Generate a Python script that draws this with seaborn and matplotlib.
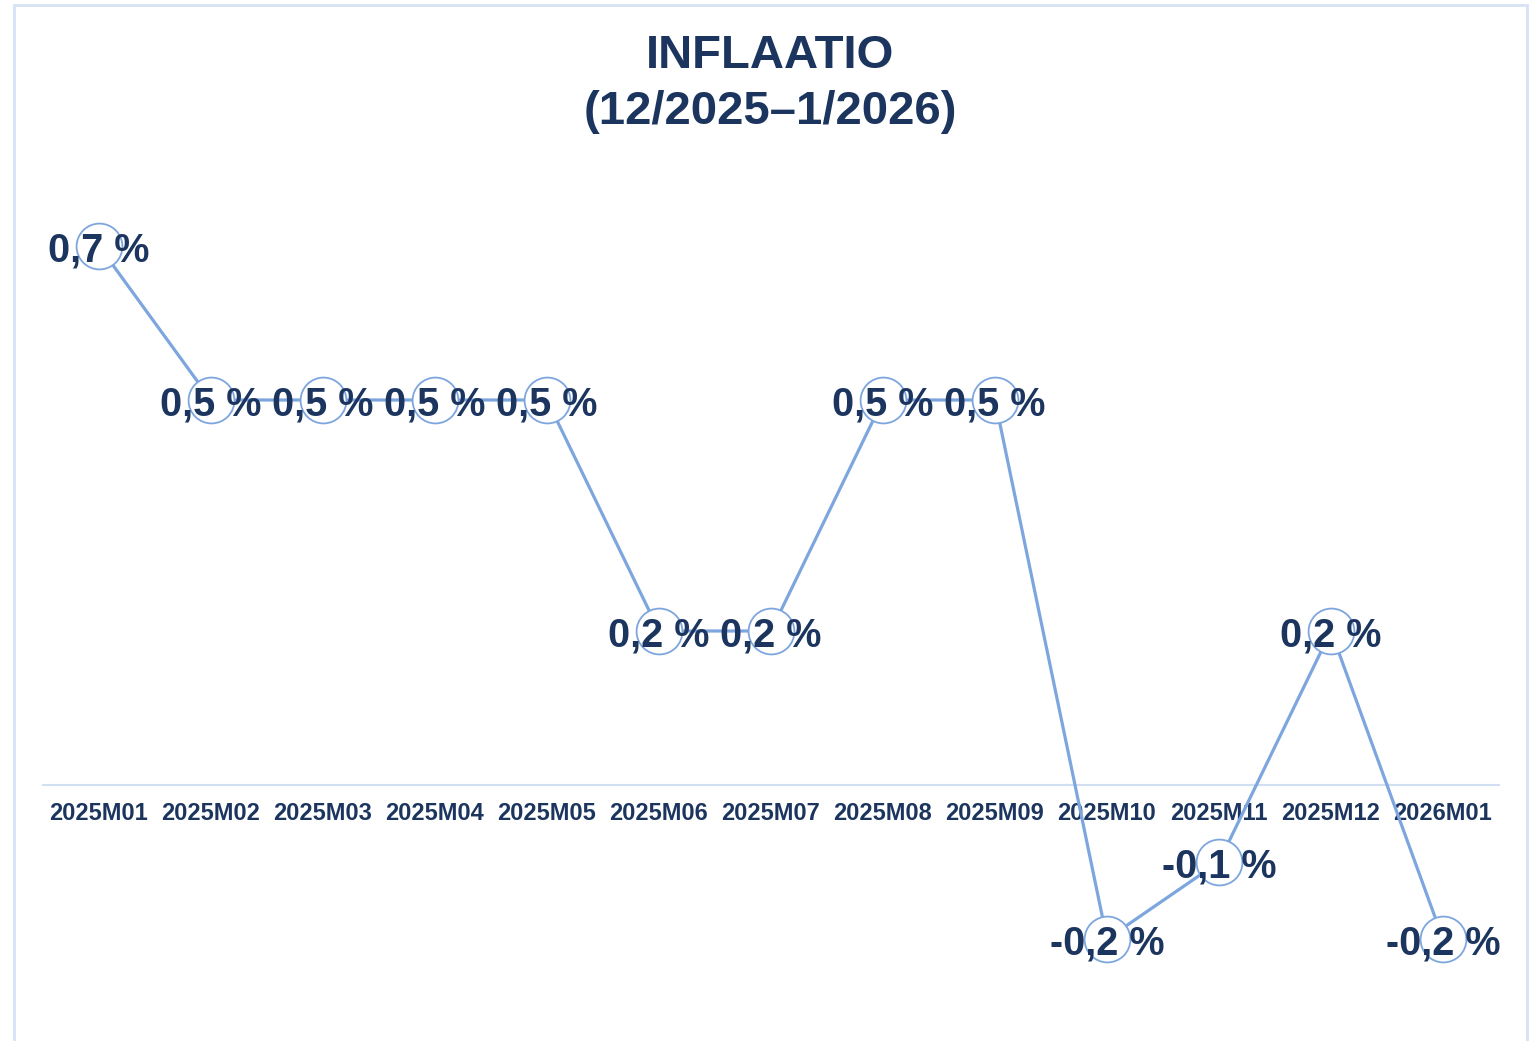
import matplotlib
matplotlib.use("Agg")
import matplotlib.pyplot as plt
import matplotlib.patches as patches
import pandas as pd
import seaborn as sns

# data
months = ['2025M01', '2025M02', '2025M03', '2025M04', '2025M05', '2025M06', '2025M07',
          '2025M08', '2025M09', '2025M10', '2025M11', '2025M12', '2026M01']
inflation = [0.7, 0.5, 0.5, 0.5, 0.5, 0.2, 0.2, 0.5, 0.5, -0.2, -0.1, 0.2, -0.2]
title = "INFLAATIO\n(12/2025–1/2026)"

navy = '#1c355e'
line_col = '#7da6de'
grid_col = '#d0dff2'

sns.set_style("white")
plt.rcParams['font.family'] = ['Liberation Sans', 'DejaVu Sans']

df = pd.DataFrame({'kk': months, 'inflaatio': inflation})

fig = plt.figure(figsize=(15.39, 10.41), dpi=100)
W, H = 1539, 1041
ax = fig.add_axes([43 / W, (H - 1000) / H, 1456 / W, 840 / H])

sns.lineplot(data=df, x='kk', y='inflaatio', ax=ax, sort=False, color=line_col,
             linewidth=2.3, marker='o', markersize=33, markerfacecolor='white',
             markeredgecolor=line_col, markeredgewidth=1.3)

# arvolabelit
for i, v in enumerate(inflation):
    lab = f"{v:.1f}".replace('.', ',') + " %"
    ax.annotate(lab, (i, v), xytext=(0, -3), textcoords='offset points',
                ha='center', va='center', fontsize=28.5, fontweight='bold',
                color=navy, zorder=5)

ax.set_xlim(-0.5, len(months) - 0.5)
ax.set_ylim((785 - 1000) / 770, (785 - 160) / 770)
ax.set_xlabel('')
ax.set_ylabel('')
ax.set_yticks([])
for s in ['top', 'left', 'right']:
    ax.spines[s].set_visible(False)
ax.spines['bottom'].set_position(('data', 0))
ax.spines['bottom'].set_color(grid_col)
ax.spines['bottom'].set_linewidth(1.5)
ax.spines['bottom'].set_zorder(0)
ax.tick_params(axis='x', length=0, pad=12, labelsize=17, labelcolor=navy)
for t in ax.get_xticklabels():
    t.set_fontweight('bold')
ax.patch.set_alpha(0)

fig.text(770 / W, 1 - 84 / H, title, ha='center', va='center', fontsize=34,
         fontweight='bold', color=navy, linespacing=1.35)

border = patches.Rectangle((14 / W, -0.02), 1513 / W, (H - 5) / H + 0.02,
                           transform=fig.transFigure, fill=False,
                           edgecolor='#d6e3f4', linewidth=2)
fig.patches.append(border)

plt.savefig('out.png', dpi=100)
